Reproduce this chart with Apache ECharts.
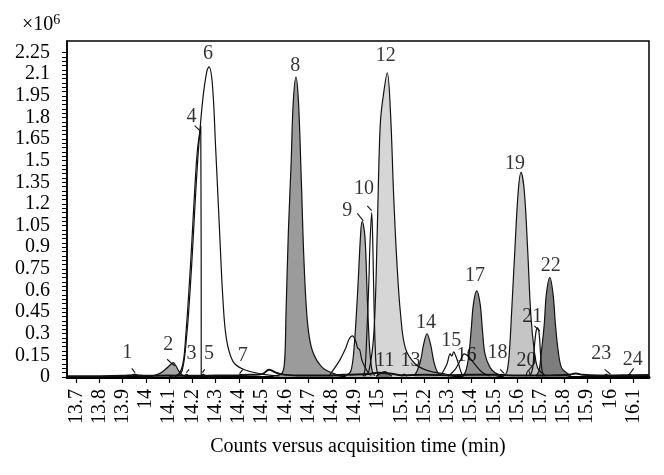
<!DOCTYPE html>
<html>
<head>
<meta charset="utf-8">
<script src="https://cdn.jsdelivr.net/npm/echarts@6/dist/echarts.min.js"></script>
<style>
  html, body { margin: 0; padding: 0; background: #fff; }
  #chart { width: 664px; height: 475px; }
</style>
</head>
<body>
<div id="chart"></div>
<script>
// axis ticks (x in min, y in 1e6 counts)
const xTicks = [13.7, 13.8, 13.9, 14, 14.1, 14.2, 14.3, 14.4, 14.5, 14.6, 14.7, 14.8, 14.9, 15, 15.1, 15.2, 15.3, 15.4, 15.5, 15.6, 15.7, 15.8, 15.9, 16, 16.1];
const yTicks = [0, 0.15, 0.3, 0.45, 0.6, 0.75, 0.9, 1.05, 1.2, 1.35, 1.5, 1.65, 1.8, 1.95, 2.1, 2.25];

// peaks: [time, counts x1e6]
const baseline = [[13.66, 0.006], [13.8, 0.006], [13.9, 0.008], [13.95, 0.012], [14.0, 0.008], [14.1, 0.01], [14.2, 0.008], [14.3, 0.01], [14.4, 0.012], [14.45, 0.015], [14.5, 0.02], [14.53, 0.05], [14.56, 0.03], [14.58, 0.02], [14.65, 0.01], [14.75, 0.01], [14.85, 0.015], [14.95, 0.02], [15.0, 0.03], [15.05, 0.025], [15.1, 0.012], [15.2, 0.015], [15.3, 0.012], [15.4, 0.015], [15.5, 0.015], [15.6, 0.01], [15.75, 0.012], [15.82, 0.015], [15.85, 0.025], [15.88, 0.015], [15.95, 0.01], [16.05, 0.012], [16.166, 0.014]];
const peak1 = [[13.925, 0.004], [13.94, 0.012], [13.952, 0.02], [13.964, 0.012], [13.98, 0.004]];
const peak2 = [[14.03, 0.008], [14.06, 0.025], [14.085, 0.055], [14.105, 0.085], [14.117, 0.1], [14.128, 0.08], [14.14, 0.045], [14.155, 0.015], [14.17, 0.005]];
const peak3 = [[14.165, 0.004], [14.175, 0.018], [14.185, 0.004]];
const peak4 = [[14.10, 0.004], [14.14, 0.02], [14.16, 0.1], [14.172, 0.3], [14.185, 0.6], [14.198, 0.95], [14.21, 1.3], [14.222, 1.58], [14.236, 1.74], [14.238, 0]];
const peak5 = [[14.238, 0.004], [14.246, 0.02], [14.256, 0.004]];
const peak6 = [[14.124, 0], [14.155, 0.04], [14.176, 0.3], [14.19, 0.6], [14.203, 0.95], [14.215, 1.3], [14.228, 1.62], [14.245, 1.93], [14.262, 2.12], [14.271, 2.15], [14.286, 2.03], [14.3, 1.59], [14.317, 1.01], [14.331, 0.55], [14.346, 0.27], [14.374, 0.11], [14.417, 0.055], [14.5, 0.02], [14.574, 0.007]];
const peak7 = [[14.40, 0.004], [14.41, 0.018], [14.42, 0.004]];
const peak8 = [[14.55, 0.01], [14.582, 0.02], [14.596, 0.09], [14.603, 0.44], [14.613, 1.0], [14.625, 1.48], [14.634, 1.9], [14.646, 2.08], [14.657, 1.9], [14.669, 1.36], [14.681, 0.78], [14.696, 0.37], [14.717, 0.18], [14.76, 0.065], [14.817, 0.019], [14.86, 0.01]];
const bump9 = [[14.789, 0.01], [14.832, 0.11], [14.86, 0.2], [14.874, 0.26], [14.889, 0.285], [14.903, 0.25], [14.912, 0.2], [14.92, 0.19], [14.931, 0.11], [14.953, 0.04], [14.97, 0.01]];
const peak9 = [[14.86, 0.01], [14.882, 0.04], [14.896, 0.2], [14.91, 0.55], [14.925, 1.01], [14.931, 1.08], [14.943, 0.97], [14.953, 0.55], [14.963, 0.2], [14.974, 0.04], [14.985, 0.01]];
const peak10 = [[14.935, 0.005], [14.943, 0.05], [14.951, 0.3], [14.96, 0.67], [14.964, 0.9], [14.972, 1.14], [14.977, 0.9], [14.982, 0.5], [14.99, 0.1], [14.999, 0.01]];
const peak11 = [[14.99, 0.005], [15.005, 0.02], [15.02, 0.035], [15.03, 0.038], [15.045, 0.02], [15.06, 0.005]];
const peak12 = [[14.94, 0.005], [14.96, 0.04], [14.982, 0.32], [14.996, 1.02], [15.003, 1.48], [15.01, 1.78], [15.021, 1.94], [15.039, 2.11], [15.053, 1.83], [15.067, 1.24], [15.081, 0.78], [15.096, 0.44], [15.117, 0.2], [15.16, 0.09], [15.217, 0.042], [15.289, 0.021], [15.34, 0.008]];
const peak13 = [[15.10, 0.004], [15.112, 0.02], [15.124, 0.004]];
const peak14 = [[15.155, 0.01], [15.167, 0.04], [15.182, 0.11], [15.196, 0.23], [15.21, 0.3], [15.225, 0.23], [15.239, 0.11], [15.253, 0.04], [15.27, 0.01]];
const peak15 = [[15.27, 0.01], [15.296, 0.09], [15.31, 0.16], [15.317, 0.145], [15.325, 0.175], [15.334, 0.145], [15.346, 0.09], [15.36, 0.02], [15.37, 0.005]];
const peak16 = [[15.30, 0.005], [15.33, 0.05], [15.355, 0.12], [15.37, 0.16], [15.39, 0.14], [15.42, 0.08], [15.45, 0.03], [15.48, 0.008]];
const peak17 = [[15.365, 0.01], [15.377, 0.04], [15.389, 0.134], [15.4, 0.32], [15.41, 0.505], [15.424, 0.597], [15.439, 0.505], [15.449, 0.32], [15.46, 0.157], [15.482, 0.065], [15.503, 0.03], [15.53, 0.01]];
const peak18 = [[15.522, 0.004], [15.532, 0.02], [15.542, 0.004]];
const peak19 = [[15.54, 0.01], [15.553, 0.03], [15.563, 0.134], [15.574, 0.435], [15.589, 0.9], [15.603, 1.29], [15.615, 1.419], [15.629, 1.29], [15.643, 0.9], [15.657, 0.435], [15.672, 0.18], [15.686, 0.065], [15.703, 0.03], [15.72, 0.01]];
const peak20 = [[15.636, 0.004], [15.646, 0.045], [15.656, 0.004]];
const peak21 = [[15.655, 0.01], [15.665, 0.06], [15.672, 0.2], [15.68, 0.32], [15.686, 0.34], [15.693, 0.3], [15.699, 0.16], [15.706, 0.04], [15.715, 0.005]];
const peak22 = [[15.68, 0.01], [15.692, 0.04], [15.703, 0.18], [15.715, 0.366], [15.724, 0.574], [15.739, 0.69], [15.753, 0.574], [15.763, 0.366], [15.775, 0.18], [15.789, 0.065], [15.81, 0.03], [15.83, 0.01]];
const peak23 = [[15.972, 0.004], [15.982, 0.02], [15.992, 0.004]];
const peak24 = [[16.072, 0.004], [16.082, 0.02], [16.092, 0.004]];

// peak numbers and where they are written
const peakNames = ['1', '2', '3', '4', '5', '6', '7', '8', '9', '10', '11', '12', '13', '14', '15', '16', '17', '18', '19', '20', '21', '22', '23', '24'];
const labelTimes = [13.919, 14.096, 14.196, 14.196, 14.271, 14.267, 14.417, 14.643, 14.867, 14.939, 15.029, 15.032, 15.139, 15.206, 15.315, 15.38, 15.417, 15.514, 15.589, 15.639, 15.663, 15.743, 15.96, 16.096];
const labelHeights = [0.167, 0.227, 0.158, 1.806, 0.158, 2.241, 0.146, 2.16, 1.153, 1.303, 0.111, 2.229, 0.111, 0.377, 0.25, 0.146, 0.7, 0.169, 1.477, 0.111, 0.417, 0.771, 0.158, 0.123];

// little leader strokes from number to peak: [[t0, v0], [t1, v1]]
const leaders = [
  [[13.939, 0.06], [13.953, 0.03]],
  [[14.091, 0.123], [14.124, 0.076]],
  [[14.174, 0.03], [14.186, 0.053]],
  [[14.21, 1.743], [14.232, 1.708]],
  [[14.243, 0.03], [14.253, 0.053]],
  [[14.403, 0.023], [14.417, 0.053]],
  [[14.91, 1.134], [14.936, 1.083]],
  [[14.953, 1.187], [14.972, 1.153]],
  [[15.525, 0.053], [15.543, 0.023]],
  [[15.646, 0.042], [15.663, 0.076]],
  [[15.672, 0.354], [15.696, 0.319]],
  [[15.975, 0.053], [16.0, 0.019]],
  [[16.082, 0.019], [16.1, 0.06]]
];

const serif = '"Liberation Serif", "Times New Roman", serif';

// [data, fill colour or null]
const traces = [
  [baseline, null],
  [peak1, null], [peak3, null], [peak5, null], [peak7, null],
  [peak4, null], [peak6, null], [peak2, '#a6a6a6'],
  [peak8, '#9b9b9b'],
  [peak12, '#d6d6d6'], [peak9, '#b3b3b3'], [bump9, null], [peak10, null],
  [peak11, '#6e6e6e'], [peak13, null],
  [peak14, '#a3a3a3'], [peak16, null], [peak15, null],
  [peak17, '#929292'], [peak18, null],
  [peak19, '#c5c5c5'], [peak20, null], [peak21, null],
  [peak22, '#7d7d7d'], [peak23, null], [peak24, null]
];

const series = traces.map(([data, fill], i) => {
  const s = {
    type: 'line',
    data: data,
    smooth: 0.35,
    symbol: 'none',
    silent: true,
    lineStyle: { color: '#111', width: i === 0 ? 2 : 1.2 },
    z: 2
  };
  if (fill) s.areaStyle = { color: fill, opacity: 1 };
  return s;
});

series.push({
  type: 'lines',
  coordinateSystem: 'cartesian2d',
  data: leaders.map(c => ({ coords: c })),
  lineStyle: { color: '#111', width: 1.1, opacity: 1 },
  silent: true,
  z: 4
});

series.push({
  type: 'scatter',
  data: peakNames.map((n, i) => [labelTimes[i], labelHeights[i], n]),
  symbolSize: 1,
  itemStyle: { color: 'rgba(0,0,0,0)' },
  silent: true,
  z: 5,
  label: {
    show: true,
    position: 'inside',
    formatter: p => p.data[2],
    color: '#000',
    fontFamily: serif,
    fontSize: 20
  }
});

const yMinor = [];
for (let k = 0; k <= 75; k++) yMinor.push(+(k * 0.03).toFixed(2));

const chart = echarts.init(document.getElementById('chart'));
chart.setOption({
  animation: false,
  backgroundColor: '#fff',
  grid: {
    left: 67, right: 15, top: 41, bottom: 98,
    show: true, borderColor: '#000', borderWidth: 1.5
  },
  xAxis: {
    type: 'value',
    min: 13.66,
    max: 16.166,
    name: 'Counts versus acquisition time (min)',
    nameLocation: 'middle',
    nameGap: 60,
    nameTextStyle: { fontFamily: serif, fontSize: 20, color: '#000' },
    axisLine: { lineStyle: { color: '#000', width: 3 } },
    axisTick: { show: true, customValues: xTicks, length: 6, lineStyle: { color: '#000', width: 1.2 } },
    axisLabel: {
      customValues: xTicks,
      rotate: 90,
      margin: 12,
      fontFamily: serif,
      fontSize: 20,
      color: '#000'
    },
    splitLine: { show: false }
  },
  yAxis: {
    type: 'value',
    min: 0,
    max: 2.33,
    axisLine: { show: true, lineStyle: { color: '#000', width: 1.5 } },
    axisTick: { show: true, customValues: yMinor, length: 5, lineStyle: { color: '#000', width: 1 } },
    axisLabel: {
      customValues: yTicks,
      margin: 17,
      fontFamily: serif,
      fontSize: 20,
      color: '#000'
    },
    splitLine: { show: false }
  },
  graphic: [{
    type: 'text',
    left: 22,
    top: 13,
    style: {
      text: '×10{s|6}',
      font: '20px ' + serif,
      fill: '#000',
      rich: { s: { fontSize: 14, verticalAlign: 'top', padding: [0, 0, 10, 0], fontFamily: serif, fill: '#000' } }
    }
  }],
  series: series
});
</script>
</body>
</html>
